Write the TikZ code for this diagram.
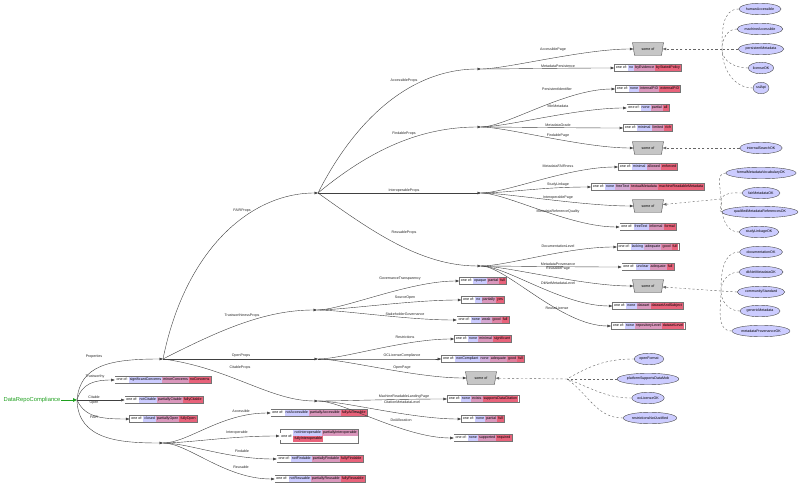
\documentclass[tikz,border=0pt]{standalone}
\usepackage{fontspec}
\setmainfont{Liberation Sans}
\usetikzlibrary{arrows.meta,shapes.geometric}
\definecolor{cA}{RGB}{204,204,255}
\definecolor{cB}{RGB}{232,98,122}
\definecolor{ellfill}{RGB}{204,204,255}
\definecolor{rootgreen}{RGB}{30,160,30}
\setlength{\fboxsep}{1.1pt}
\newcommand\oc{\colorbox{white}{\strut one of:}}
\newcommand\vc[2]{\colorbox{cB!#1!cA}{\strut #2}}
\newcommand\fanedge[2]{\draw[ea] (#1) .. controls +(25,0) and +(-50,0) .. (#2.west);}
\begin{document}
\begin{tikzpicture}[x=1pt,y=-1pt,
 every node/.style={font=\fontsize{3.6}{4.2}\selectfont},
 rec/.style={draw=black!55, line width=0.5pt, inner sep=0.5pt, fill=white},
 lbl/.style={inner sep=0pt, text=black!85},
 ell/.style={ellipse, draw=black!70, line width=0.4pt, fill=ellfill, inner sep=0.8pt, minimum height=11.5pt},
 some/.style={trapezium, trapezium stretches=true, trapezium left angle=70, trapezium right angle=70, shape border rotate=180, minimum width=31pt, minimum height=13pt, fill=gray!45, draw=black!70, line width=0.4pt, inner sep=0pt},
 e/.style={draw=black!75, line width=0.4pt},
 ea/.style={e, -{Triangle[length=3.5pt,width=2.6pt]}},
 dsh/.style={draw=black!60, line width=0.4pt, dash pattern=on 2.2pt off 2.2pt},
 dsha/.style={dsh, -{Triangle[length=3.5pt,width=2.6pt]}}]
\fill[white] (0,0) rectangle (800,486);
\useasboundingbox (0,0) rectangle (800,486);

% junctions
\coordinate (J0) at (77,400);
\coordinate (PJ) at (163,359);
\coordinate (FJ) at (163,443);
\coordinate (FPJ) at (318,193);
\coordinate (TPJ) at (317,310);
\coordinate (OPJ) at (318,359);
\coordinate (CPJ) at (318,401);
\coordinate (AJ) at (481,69);
\coordinate (FiJ) at (481,127);
\coordinate (IJ) at (481,193);
\coordinate (RJ) at (481,266);
\coordinate (dA) at (722,49);
\coordinate (dI) at (721,199);
\coordinate (dR) at (721,291);
\coordinate (dO) at (567,379);

% root
\node[inner sep=0.5pt, font=\fontsize{5.8}{7}\selectfont, text=rootgreen] (root) at (32,400) {DataRepoCompliance};

% left column boxes
\node[rec] (btrust) at (163,380) {\oc\vc{0}{significantConcerns}\vc{50}{minorConcerns}\vc{100}{noConcerns}};
\node[rec] (bcit) at (164,400) {\oc\vc{0}{notCitable}\vc{50}{partiallyCitable}\vc{100}{fullyCitable}};
\node[rec] (bopen) at (163.5,419) {\oc\vc{0}{closed}\vc{50}{partiallyOpen}\vc{100}{fullyOpen}};

% FAIR boxes
\node[rec] (bacc) at (319,413) {\oc\vc{0}{notAccessible}\vc{50}{partiallyAccessible}\vc{100}{fullyAccessible}};
\node[rec] (bint) at (319,436) {\oc\begin{tabular}{@{}l@{}}\vc{0}{notInteroperable}\vc{50}{partiallyInteroperable}\\[-0.3pt]\vc{100}{fullyInteroperable}\end{tabular}};
\node[rec] (bfind) at (320,459) {\oc\vc{0}{notFindable}\vc{50}{partiallyFindable}\vc{100}{fullyFindable}};
\node[rec] (breus) at (320,479) {\oc\vc{0}{notReusable}\vc{50}{partiallyReusable}\vc{100}{fullyReusable}};

% middle column
\node[rec] (bgov) at (483,281) {\oc\vc{0}{opaque}\vc{50}{partial}\vc{100}{full}};
\node[rec] (bsrc) at (483,300) {\oc\vc{0}{no}\vc{50}{partially}\vc{100}{yes}};
\node[rec] (bstake) at (483,320) {\oc\vc{0}{none}\vc{33}{weak}\vc{67}{good}\vc{100}{full}};
\node[rec] (brestr) at (483,339) {\oc\vc{0}{none}\vc{50}{minimal}\vc{100}{significant}};
\node[rec] (boclic) at (483,359) {\oc\vc{0}{nonCompliant}\vc{25}{none}\vc{50}{adequate}\vc{75}{good}\vc{100}{full}};
\node[some] (soopen) at (481,378) {some of};
\node[rec] (bmrlp) at (483,399) {\oc\vc{0}{none}\vc{50}{exists}\vc{100}{supportsDataCitation}};
\node[rec] (bcitmeta) at (483,419) {\oc\vc{0}{none}\vc{50}{partial}\vc{100}{full}};
\node[rec] (bdoi) at (483,438) {\oc\vc{0}{none}\vc{50}{supported}\vc{100}{required}};

% right column
\node[some] (soacc) at (648,49) {some of};
\node[rec] (bmetapers) at (648,68) {\oc\vc{0}{no}\vc{50}{byEvidence}\vc{100}{byStatedPolicy}};
\node[rec] (bpid) at (648,89) {\oc\vc{0}{none}\vc{50}{internalPID}\vc{100}{externalPID}};
\node[rec] (bminmeta) at (648,108) {\oc\vc{0}{none}\vc{50}{partial}\vc{100}{all}};
\node[rec] (bgrade) at (648,128) {\oc\vc{0}{minimal}\vc{50}{limited}\vc{100}{rich}};
\node[some] (sofind) at (648,148) {some of};
\node[rec] (bfairness) at (648,167) {\oc\vc{0}{minimal}\vc{50}{allowed}\vc{100}{enforced}};
\node[rec] (bstudy) at (648,187) {\oc\vc{0}{none}\vc{33}{freeText}\vc{67}{textualMetadata}\vc{100}{machineReadableMetadata}};
\node[some] (soint) at (648,206) {some of};
\node[rec] (brefq) at (648,227) {\oc\vc{0}{freeText}\vc{50}{informal}\vc{100}{formal}};
\node[rec] (bdoc) at (648,247) {\oc\vc{0}{lacking}\vc{33}{adequate}\vc{67}{good}\vc{100}{full}};
\node[rec] (bprov) at (648,267) {\oc\vc{0}{unclear}\vc{50}{adequate}\vc{100}{full}};
\node[some] (soreus) at (648,286) {some of};
\node[rec] (bdknet) at (648,306) {\oc\vc{0}{none}\vc{50}{dataset}\vc{100}{datasetAndSubject}};
\node[rec] (breuse) at (648,326) {\oc\vc{0}{none}\vc{50}{repositoryLevel}\vc{100}{datasetLevel}};

% ellipses
\node[ell] (ehuman) at (760,9) {humanAccessible};
\node[ell] (emachine) at (760,29) {machineAccessible};
\node[ell] (epersist) at (761,49) {persistentMetadata};
\node[ell] (elicense) at (761,68) {licenseOK};
\node[ell] (essl) at (761,88) {sslApi};
\node[ell] (eisearch) at (761,148) {internalSearchOK};
\node[ell] (eformal) at (761,173) {formalMetadataVocabularyOK};
\node[ell] (efairmeta) at (761,193) {fairMetadataOK};
\node[ell] (equal) at (760,212) {qualifiedMetadataReferencesOK};
\node[ell] (estudy) at (759,232) {studyLinkageOK};
\node[ell] (edoc) at (761,252) {documentationOK};
\node[ell] (edknet) at (761,272) {dkNetMetadataOK};
\node[ell] (ecomm) at (761,292) {communityStandard};
\node[ell] (egeneric) at (760,311) {genericMetadata};
\node[ell] (eprov) at (761,331) {metadataProvenanceOK};
\node[ell] (eopen) at (649,359) {openFormat};
\node[ell] (eplatform) at (648,379) {platformSupportsDataMob};
\node[ell] (eoclic) at (648,398) {ocLicenseOK};
\node[ell] (erestr) at (650,418) {restrictionsNotJustified};

% root arrow
\draw[draw=rootgreen, line width=1pt, -{Triangle[length=4pt,width=3.6pt]}] (root) -- (J0);

% first level
\draw[ea] (J0) .. controls (80,365) and (110,359) .. (PJ);
\draw[ea] (J0) .. controls (82,383) and (95,380) .. (btrust.west);
\draw[ea] (J0) -- (bcit.west);
\draw[ea] (J0) .. controls (85,417) and (100,419) .. (bopen.west);
\draw[ea] (J0) .. controls (78,440) and (120,443) .. (FJ);

% properties
\draw[ea] (PJ) .. controls (185,250) and (250,193) .. (FPJ);
\draw[ea] (PJ) .. controls (220,330) and (265,310) .. (TPJ);
\draw[ea] (PJ) -- (OPJ);
\draw[ea] (PJ) .. controls (230,368) and (270,401) .. (CPJ);

% FAIR
\fanedge{FJ}{bacc}
\fanedge{FJ}{bint}
\fanedge{FJ}{bfind}
\fanedge{FJ}{breus}

% FAIRProps
\draw[ea] (FPJ) .. controls (355,120) and (410,69) .. (AJ);
\draw[ea] (FPJ) .. controls (370,150) and (420,127) .. (FiJ);
\draw[ea] (FPJ) -- (IJ);
\draw[ea] (FPJ) .. controls (370,230) and (420,266) .. (RJ);

\fanedge{AJ}{soacc}
\fanedge{AJ}{bmetapers}
\fanedge{FiJ}{bpid}
\fanedge{FiJ}{bminmeta}
\fanedge{FiJ}{bgrade}
\fanedge{FiJ}{sofind}
\fanedge{IJ}{bfairness}
\fanedge{IJ}{bstudy}
\fanedge{IJ}{soint}
\fanedge{IJ}{brefq}
\fanedge{RJ}{bdoc}
\fanedge{RJ}{bprov}
\fanedge{RJ}{soreus}
\fanedge{RJ}{bdknet}
\fanedge{RJ}{breuse}

\fanedge{TPJ}{bgov}
\fanedge{TPJ}{bsrc}
\fanedge{TPJ}{bstake}
\fanedge{OPJ}{brestr}
\fanedge{OPJ}{boclic}
\fanedge{OPJ}{soopen}
\fanedge{CPJ}{bmrlp}
\fanedge{CPJ}{bcitmeta}
\fanedge{CPJ}{bdoi}

% dashed
\draw[dsh] (ehuman.west) to[out=180,in=90] (dA);
\draw[dsh] (emachine.west) to[out=180,in=90] (dA);
\draw[dsh] (epersist.west) -- (dA);
\draw[dsh] (elicense.west) to[out=180,in=-90] (dA);
\draw[dsh] (essl.west) to[out=180,in=-90] (dA);
\draw[dsha] (dA) -- (soacc);
\draw[dsha] (eisearch) -- (sofind);
\draw[dsh] (eformal.west) to[out=180,in=90] (dI);
\draw[dsh] (efairmeta.west) to[out=180,in=60] (dI);
\draw[dsh] (equal.west) to[out=180,in=-60] (dI);
\draw[dsh] (estudy.west) to[out=180,in=-90] (dI);
\draw[dsha] (dI) -- (soint);
\draw[dsh] (edoc.west) to[out=180,in=90] (dR);
\draw[dsh] (edknet.west) to[out=180,in=90] (dR);
\draw[dsh] (ecomm.west) -- (dR);
\draw[dsh] (egeneric.west) to[out=180,in=-90] (dR);
\draw[dsh] (eprov.west) to[out=180,in=-90] (dR);
\draw[dsha] (dR) -- (soreus);
\draw[dsh] (eopen.west) to[out=180,in=30] (dO);
\draw[dsh] (eplatform.west) -- (dO);
\draw[dsh] (eoclic.west) to[out=180,in=-20] (dO);
\draw[dsh] (erestr.west) to[out=180,in=-35] (dO);
\draw[dsha] (dO) -- (soopen);

% labels
\node[lbl] (l1) at (94,357) {Properties};
\node[lbl] (l2) at (95,377) {Trustworthy};
\node[lbl] (l3) at (94,397) {Citable};
\node[lbl] (l4) at (94,403) {Open};
\node[lbl] (l5) at (94,417) {FAIR};
\node[lbl] (l6) at (242,211) {FAIRProps};
\node[lbl] (l7) at (242,316) {TrustworthinessProps};
\node[lbl] (l8) at (241,356) {OpenProps};
\node[lbl] (l9) at (240,368) {CitableProps};
\node[lbl] (l10) at (404,81) {AccessibleProps};
\node[lbl] (l11) at (404,134) {FindableProps};
\node[lbl] (l12) at (404,191) {InteroperableProps};
\node[lbl] (l13) at (404,233) {ReusableProps};
\node[lbl] (l14) at (553,50) {AccessiblePage};
\node[lbl] (l15) at (558,66) {MetadataPersistence};
\node[lbl] (l16) at (557,89) {PersistentIdentifier};
\node[lbl] (l17) at (558,106) {MinMetadata};
\node[lbl] (l18) at (558,125) {MetadataGrade};
\node[lbl] (l19) at (558,136) {FindablePage};
\node[lbl] (l20) at (558,166) {MetadataFAIRness};
\node[lbl] (l21) at (558,185) {StudyLinkage};
\node[lbl] (l22) at (558,198) {InteroperablePage};
\node[lbl] (l23) at (558,212) {MetadataReferenceQuality};
\node[lbl] (l24) at (558,246) {DocumentationLevel};
\node[lbl] (l25) at (558,264) {MetadataProvenance};
\node[lbl] (l26) at (558,269) {ReusablePage};
\node[lbl] (l27) at (558,283) {DkNetMetadataLevel};
\node[lbl] (l28) at (557,308) {ReuseLicense};
\node[lbl] (l29) at (400,279) {GovernanceTransparency};
\node[lbl] (l30) at (405,298) {SourceOpen};
\node[lbl] (l31) at (405,314) {StakeholderGovernance};
\node[lbl] (l32) at (405,337) {Restrictions};
\node[lbl] (l33) at (402,356) {OCLicenseCompliance};
\node[lbl] (l34) at (402,368) {OpenPage};
\node[lbl] (l35) at (404,397) {MachineReadableLandingPage};
\node[lbl] (l36) at (402,402) {CitationMetadataLevel};
\node[lbl] (l37) at (401,420) {DoiAllocation};
\node[lbl] (l38) at (241,411) {Accessible};
\node[lbl] (l39) at (237,433) {Interoperable};
\node[lbl] (l40) at (242,451) {Findable};
\node[lbl] (l41) at (241,467) {Reusable};
\end{tikzpicture}
\end{document}
